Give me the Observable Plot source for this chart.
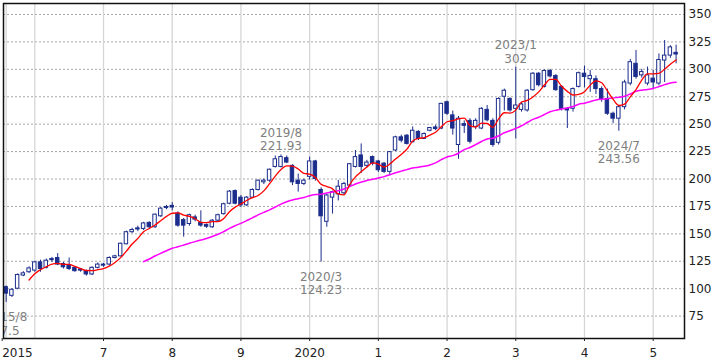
<!DOCTYPE html>
<html><head><meta charset="utf-8">
<script src="https://cdn.jsdelivr.net/npm/d3@7"></script>
<script src="https://cdn.jsdelivr.net/npm/@observablehq/plot@0.6"></script>
<style>
body{margin:0;background:#fff;}
#chart svg{display:block;}
</style></head><body><div id="chart"></div>
<script>
// Monthly candles, first month 2015/8
const startYear = 2015, startMonth = 8;
const open = [101.4,93.5,100,112,115,116.5,124,119,127,128,122.5,121,119,117.5,116,113,119,122,122,128,129.5,140.5,151.5,155,154.5,160,156,166,174.5,175.5,
  168.5,162.5,159,165,160,158,156,162,168,177.5,189,183,176,183,190,197,198.5,211,211,219,212,198.5,195.5,202,216,190,161,183,186,187,
  194,211,221.5,212,220,216,214,206.5,226,238,239.5,233.5,243,236.5,244,247,246,270,258,231,250,253,247.5,246,263,253,233,275,273,264,
  263,262.5,281,296,284,298.5,294,284,264,264,284,296,291,291,282,273,259.5,255,265.5,287,305,294.5,287,291.5,287,308,312.5,315];
const high = [102.5,100,113.5,115.5,120,125,126,127,128.5,132,124,128,120,118.5,117,120,123.5,123,129,130.5,141.5,152.5,155,157,160.5,161,168,174,176,178.5,
  170,164,168,167,171,159,163,168,178,189.5,190,185,184,191,199,200,209,221,221.93,221,213,204.5,200,220,217,192,186,189,198.7,197,
  214,226,232,217,221,217,215,225,239,240,240.5,247.5,244,242,247,249,269,271,262,257,253,255,255,265,267,255,274,282,274,302,
  270,281.5,297,297,299.5,300,295,285,265,283,297.5,303,299,294,284,282,261,266.5,290,309,317.2,300,302,299,314,326.3,321.5,322];
const low = [87.5,92,99,111,114,115,115,118,124,121,118,116.5,115,115,111.5,112,118,119.5,121,127,129,140,150.5,152,153,155,155,165,172,171,
  156,147,157,161,156,155,155,161,167,176.5,176.5,174,175,182,189,195,197,210,210,214,194,188,194,199,198,124.23,156,168,180,185,
  193,210,205,210,212,206,205,203,225,233,231,233,235,236,243,244,245,258,240,218,241.5,232,245,245,252,229,231,262,261,236.5,
  261,261,280,284,283,292,280,262,246,261,283,283,279,277,270,258,250.5,243.56,263,285,291,292,285,282,285,288,310,305];
const close = [95.5,99,112.5,114,118.5,124,118,125.5,126,122,119.5,118,116,116.5,113,119,122,121,128,129.5,141,151.5,153.5,154,159.5,156,167.5,173,173.5,174,
  157.5,157.5,167,163,157.5,156.5,162,167,177,188.5,177.5,176,183,190,198.5,198.5,208.5,218,220,215,197,195.5,198.5,216,200,166,185,188,193,195.5,
  213.5,220,211,215,214,208,206.5,224.5,238,235,232,244,236.5,241,246.5,245.5,268.5,259.5,246,255,248.5,234,253,264,253.5,231,273,280.5,262.5,267,
  268,280.5,296,285.5,298.5,293.5,281,264,262.5,282,296.5,293,294,282,273,259.5,255,265.5,288,306.5,293,297.5,294.5,288,308.5,312.5,320,313.5];

// axes
const yTicks = [75,100,125,150,175,200,225,250,275,300,325,350];
const yearTicks = [2017,2018,2019,2020,2021,2022,2023,2024,2025];
const yearLabels = ["7","8","9","2020","1","2","3","4","5"];
const firstLabel = "2015";
// annotations
const annoDates = ["2015/8","2019/8","2020/3","2023/1","2024/7"];
const annoValues = [87.5,221.93,124.23,302,243.56];
const annoSide = ["below","above","below","above","below"];

const data = close.map((c, i) => {
  const m = startMonth - 1 + i;
  const y = startYear + Math.floor(m / 12);
  const mo = m % 12 + 1;
  return {t: y + (mo - 1) / 12, label: `${y}/${mo}`, o: open[i], h: high[i], l: low[i], c};
});
const t0 = data[0].t;
const annos = annoDates.map((lab, i) => {
  const d = data.find(e => e.label === lab);
  return {t: d.t, v: annoValues[i], text: lab + "\n" + annoValues[i], side: annoSide[i]};
});
const labelMap = new Map(yearTicks.map((y, i) => [y, yearLabels[i]]));

const navy = "#1b2d8c";
const hw = 0.3 / 12;
const annoColor = "#808080";

const chart = Plot.plot({
  width: 720, height: 360,
  marginLeft: 3, marginRight: 36, marginTop: 3, marginBottom: 22,
  style: {fontFamily: "'DejaVu Sans', Verdana, sans-serif", fontSize: "12px", background: "#fff", color: "#222"},
  x: {type: "linear", domain: [2015.5445, 2025.4555], axis: null, label: null},
  y: {domain: [54.6, 360], axis: null, label: null},
  marks: [
    Plot.gridY(yTicks, {stroke: "#a8a8a8", strokeOpacity: 1, strokeDasharray: "2,2"}),
    Plot.ruleX([t0, 2016, ...yearTicks], {stroke: "#d6d6d6", strokeWidth: 1.3}),
    Plot.ruleX(data, {x: "t", y1: "l", y2: "h", stroke: navy, strokeWidth: 1}),
    Plot.rect(data, {x1: d => d.t - hw, x2: d => d.t + hw, y1: "o", y2: "c",
      fill: d => d.c < d.o ? navy : "#fff", stroke: navy, strokeWidth: 1}),
    Plot.lineY(data, Plot.windowY({k: 25, anchor: "end", strict: true},
      {x: "t", y: "c", stroke: "#ff00ff", strokeWidth: 1.5, curve: "monotone-x"})),
    Plot.lineY(data, Plot.windowY({k: 5, anchor: "end", strict: true},
      {x: "t", y: "c", stroke: "#ff0000", strokeWidth: 1.3, curve: "monotone-x"})),
    Plot.text(annos.filter(a => a.side === "above"), {x: "t", y: "v", text: "text",
      lineAnchor: "bottom", dy: -4.5, lineHeight: 1.13, fill: annoColor, fontSize: 12}),
    Plot.text(annos.filter(a => a.side === "below"), {x: "t", y: "v", text: "text",
      lineAnchor: "top", dy: 9, lineHeight: 1.13, fill: annoColor, fontSize: 12, clip: "frame"}),
    Plot.frame({stroke: "#111", strokeWidth: 1.5}),
    Plot.axisY(yTicks, {anchor: "right", tickSize: 0, tickPadding: 4, fontSize: 12, label: null}),
    Plot.axisX(yearTicks, {anchor: "bottom", tickSize: 3, tickPadding: 7, tickFormat: d => labelMap.get(d), fontSize: 12, label: null}),
    Plot.axisX([t0], {anchor: "bottom", tickSize: 3, tickPadding: 7, tickFormat: () => firstLabel, textAnchor: "start", dx: -4, fontSize: 12, label: null})
  ]
});
document.getElementById("chart").append(chart);
</script>
</body></html>
